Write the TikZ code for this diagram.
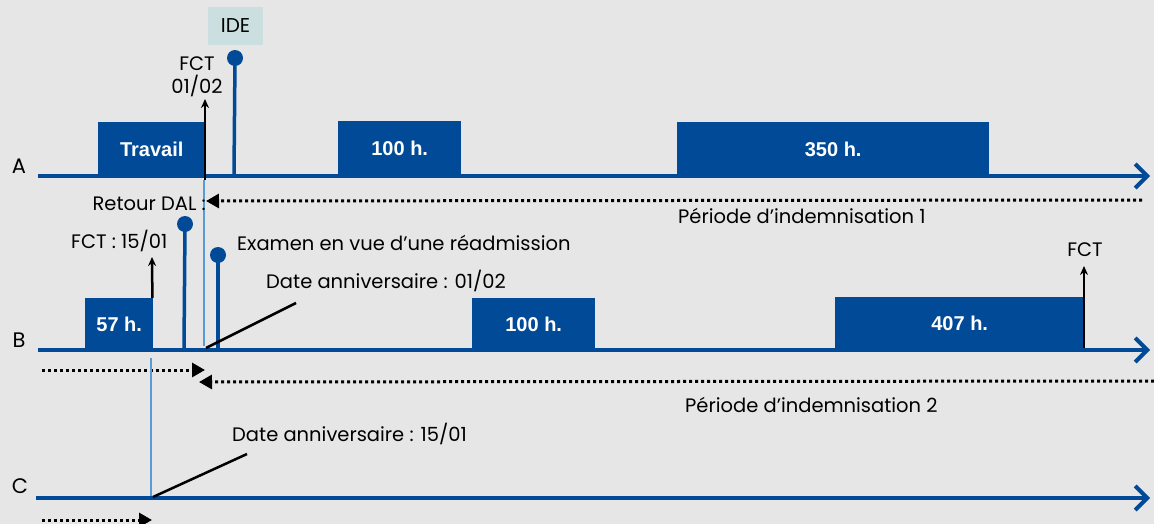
\documentclass[tikz,border=0pt]{standalone}
\usepackage{fontspec}
\setmainfont{Poppins}
\newfontfamily\boxfont{Liberation Sans}
\usetikzlibrary{arrows.meta}
\definecolor{bg}{HTML}{E6E6E6}
\definecolor{navy}{HTML}{004A97}
\definecolor{ltblue}{HTML}{5B9BD5}
\definecolor{idebg}{HTML}{CCDFE0}
\begin{document}
\begin{tikzpicture}[x=1pt,y=-1pt,
 hbox/.style={fill=navy, inner sep=0, anchor=north west, text=white, font=\boxfont\bfseries\fontsize{20}{22}\selectfont},
 axis/.style={navy, line width=4, -{Straight Barb[length=12,width=24,line width=4]}},
 lbl/.style={font=\fontsize{19.5}{22}\selectfont, inner sep=0},
 fct/.style={black, line width=2.5, -{Stealth[length=9,width=8]}},
 pin/.style={navy, line width=3.5},
 pinhead/.style={circle, fill=navy, inner sep=0, minimum size=16},
 dotarrow/.style={black, line width=3, dash pattern=on 3 off 3, -{Triangle[length=13,width=14]}},
 guide/.style={ltblue, line width=1.2},
 leader/.style={black, line width=2.5}]
\useasboundingbox (0,0) rectangle (1154,524);
\fill[bg] (0,0) rectangle (1154,524);

% ---------- A ----------
\node[hbox, minimum width=107, minimum height=55] (tr) at (98,122) {Travail};
\node[hbox, minimum width=123, minimum height=55] (a100) at (338,121) {100 h.};
\node[hbox, minimum width=312, minimum height=55] (a350) at (677,122) {350 h.};
\coordinate (A0) at (38,176);
\coordinate (A1) at (1150,176);
\draw[axis] (A0) -- (A1);
\node[lbl, font=\fontsize{21}{24}\selectfont] (lA) at (19,166) {A};

\node[fill=idebg, minimum width=55, minimum height=38, inner sep=0, font=\fontsize{20}{22}\selectfont] (ide) at (235.5,26) {IDE};
\node[pinhead] (pA) at (235,58) {};
\coordinate (pAb) at (234,174);
\draw[pin] (pAb) -- (pA.center);

\coordinate (fAb) at (205,180);
\coordinate (fAt) at (205,99);
\draw[fct] (fAb) -- (fAt);
\node[lbl, align=center, font=\fontsize{19.5}{23}\selectfont] (fA) at (197,77) {FCT\\01/02};

% guide lines
\coordinate (g1a) at (204,180);
\coordinate (g1b) at (204,346);
\draw[guide] (g1a) -- (g1b);

% periode 1
\coordinate (p1s) at (1142,200);
\coordinate (p1e) at (206,201);
\draw[dotarrow] (p1s) -- (p1e);
\node[lbl, anchor=west] (per1) at (678,216) {Période d’indemnisation 1};
\node[lbl, anchor=east] (dal) at (206,204) {Retour DAL :};

% ---------- B ----------
\node[hbox, minimum width=68, minimum height=52] (b57) at (85,298) {57 h.};
\node[hbox, minimum width=123, minimum height=52] (b100) at (472,298) {100 h.};
\node[hbox, minimum width=249, minimum height=53] (b407) at (835,297) {407 h.};
\coordinate (B0) at (38,350);
\coordinate (B1) at (1150,350);
\draw[axis] (B0) -- (B1);
\node[lbl, font=\fontsize{21}{24}\selectfont] (lB) at (19,340) {B};

\node[pinhead] (pB1) at (185,224) {};
\coordinate (pB1b) at (184,348);
\draw[pin] (pB1b) -- (pB1.center);
\node[pinhead] (pB2) at (218,255) {};
\coordinate (pB2b) at (218,348);
\draw[pin] (pB2b) -- (pB2.center);

\coordinate (fBb) at (b57.north east);
\coordinate (fBt) at (152,257);
\draw[fct] ([xshift=-1]fBb) -- (fBt);
\node[lbl, anchor=west] (fB) at (71,241) {FCT : 15/01};

\node[lbl, anchor=west] (exam) at (237,243) {Examen en vue d’une réadmission};
\node[lbl, anchor=west] (da1) at (266,281) {Date anniversaire : 01/02};
\coordinate (l1a) at (206,348);
\coordinate (l1b) at (296,303);
\draw[leader] (l1a) -- (l1b);

\coordinate (fB2b) at (1084,348);
\coordinate (fB2t) at (1084,266);
\draw[fct, line width=2] (fB2b) -- (fB2t);
\node[lbl] (fB2) at (1085,250) {FCT};

\coordinate (d2s) at (42,370);
\coordinate (d2e) at (205,370);
\draw[dotarrow] (d2s) -- (d2e);
\coordinate (p2s) at (1154,381);
\coordinate (p2e) at (199,382);
\draw[dotarrow] (p2s) -- (p2e);
\node[lbl, anchor=west] (per2) at (685,405) {Période d’indemnisation 2};

% ---------- C ----------
\coordinate (g2a) at (151,358);
\coordinate (g2b) at (151,497);
\draw[guide] (g2a) -- (g2b);
\coordinate (C0) at (36,498);
\coordinate (C1) at (1150,498);
\draw[axis] (C0) -- (C1);
\node[lbl, font=\fontsize{21}{24}\selectfont] (lC) at (20,486) {C};
\node[lbl, anchor=west] (da2) at (232,434) {Date anniversaire : 15/01};
\coordinate (l2a) at (153,497);
\coordinate (l2b) at (247,454);
\draw[leader] (l2a) -- (l2b);
\coordinate (d3s) at (42,520);
\coordinate (d3e) at (152,520);
\draw[dotarrow] (d3s) -- (d3e);
\end{tikzpicture}
\end{document}
